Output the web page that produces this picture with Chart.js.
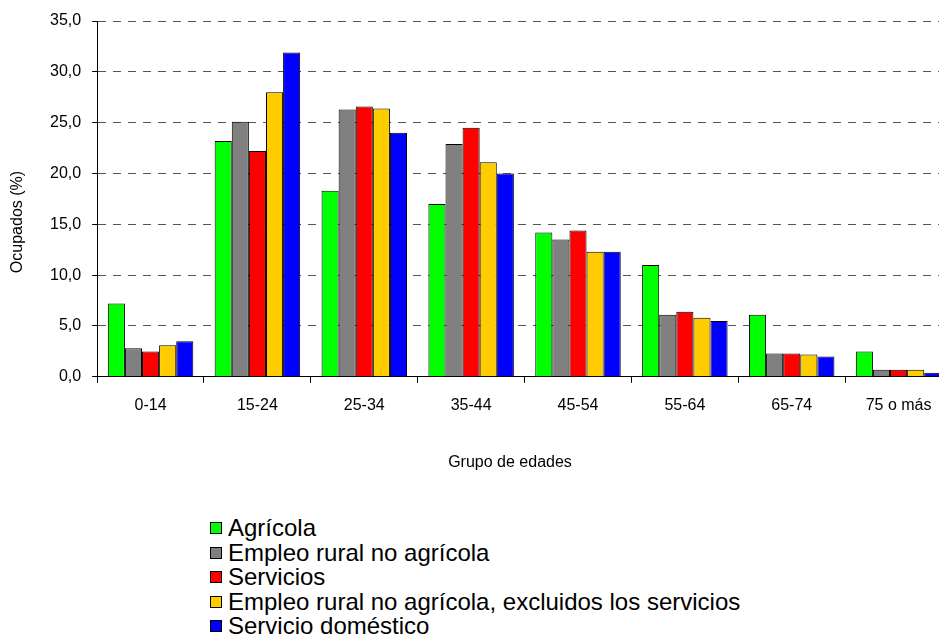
<!DOCTYPE html>
<html>
<head>
<meta charset="utf-8">
<script src="https://cdn.jsdelivr.net/npm/chart.js@4/dist/chart.umd.min.js"></script>
<style>
  html, body { margin: 0; padding: 0; background: #fff; overflow: hidden; width: 939px; height: 634px; }
  #wrap { position: absolute; left: 0; top: 0; width: 960px; height: 490px; }
  #leyenda { position: absolute; left: 210px; top: 516px; font-family: "Liberation Sans", Arial, sans-serif; font-size: 24px; color: #000; }
  #leyenda div { height: 24.5px; line-height: 24.5px; white-space: nowrap; }
  #leyenda span { display: inline-block; width: 10px; height: 10px; border: 1px solid #000; margin-right: 6px; vertical-align: 2px; }
</style>
</head>
<body>
<div id="wrap"><canvas id="grafico"></canvas></div>
<div id="leyenda"></div>
<script>
// grupos de edad
var grupos = ["0-14", "15-24", "25-34", "35-44", "45-54", "55-64", "65-74", "75 o más"];

// ocupados (%) por sector
var agricola     = [7.2, 23.2, 18.3, 17.0, 14.2, 11.0, 6.1, 2.5];
var ernaTotal    = [2.8, 25.1, 26.3, 22.9, 13.5, 6.1, 2.3, 0.7];
var servicios    = [2.5, 22.2, 26.6, 24.5, 14.4, 6.4, 2.3, 0.7];
var ernaSinServ  = [3.1, 28.0, 26.4, 21.1, 12.3, 5.8, 2.2, 0.7];
var domestico    = [3.5, 31.9, 24.0, 20.0, 12.3, 5.5, 2.0, 0.4];

var nombres = ["Agrícola", "Empleo rural no agrícola", "Servicios",
               "Empleo rural no agrícola, excluidos los servicios", "Servicio doméstico"];
var colores = ["#00ff00", "#808080", "#ff0000", "#ffcc00", "#0000ff"];
var series = [agricola, ernaTotal, servicios, ernaSinServ, domestico];

var fuente = "'Liberation Sans', Arial, sans-serif";

function numero(v) {
    return v.toFixed(1).replace(".", ",");
}

// titulos de los ejes, dibujados a mano para ubicarlos como en Excel
var titulosEjes = {
    id: 'titulosEjes',
    afterDraw: function (chart) {
        var ctx = chart.ctx;
        ctx.save();
        ctx.fillStyle = '#000';
        ctx.font = "16px " + fuente;
        ctx.textAlign = 'center';
        ctx.textBaseline = 'middle';
        ctx.fillText("Grupo de edades", 510, 463);
        ctx.translate(18, 222);
        ctx.rotate(-Math.PI / 2);
        ctx.fillText("Ocupados (%)", 0, 0);
        ctx.restore();
    }
};

function showBarChart(canvasName) {
    var ctx = document.getElementById(canvasName).getContext("2d");
    var datasets = [];
    for (var i = 0; i < series.length; i++) {
        datasets.push({
            label: nombres[i],
            data: series[i],
            backgroundColor: colores[i],
            borderColor: '#000',
            borderWidth: 1,
            categoryPercentage: 0.8,
            barPercentage: 1.0
        });
    }
    return new Chart(ctx, {
        type: 'bar',
        data: { labels: grupos, datasets: datasets },
        plugins: [titulosEjes],
        options: {
            responsive: true,
            maintainAspectRatio: false,
            animation: false,
            layout: { padding: { left: 39, top: 21, right: 8, bottom: 62 } },
            plugins: {
                legend: { display: false },
                tooltip: { enabled: false }
            },
            scales: {
                x: {
                    grid: { display: true, drawOnChartArea: false, drawTicks: true, tickLength: 6, tickColor: '#000', offset: true },
                    border: { display: true, color: '#000', width: 1 },
                    ticks: { color: '#000', font: { family: fuente, size: 16 }, padding: 13, maxRotation: 0, autoSkip: false }
                },
                y: {
                    min: 0,
                    max: 35,
                    ticks: { stepSize: 5, color: '#000', font: { family: fuente, size: 16 }, padding: 11, callback: function (v) { return numero(v); } },
                    grid: { color: '#555', lineWidth: 1, drawTicks: true, tickLength: 5, tickColor: '#000', tickBorderDash: [] },
                    border: { display: true, color: '#000', width: 1, dash: [8, 7] }
                }
            }
        }
    });
}

function crearLeyenda() {
    var html = "";
    for (var i = 0; i < nombres.length; i++)
        html += '<div><span style="background:' + colores[i] + '"></span>' + nombres[i] + '</div>';
    document.getElementById('leyenda').innerHTML = html;
}

crearLeyenda();
showBarChart("grafico");
</script>
</body>
</html>
